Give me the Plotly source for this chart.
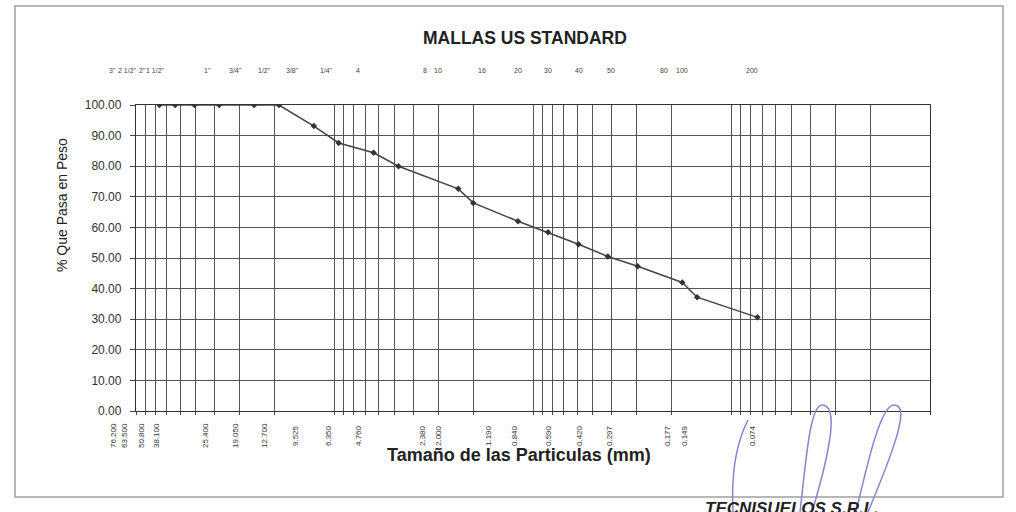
import plotly.graph_objects as go

# Sieve sizes (mm) and cumulative percent passing
sieve_mm = [76.2, 63.5, 50.8, 38.1, 25.4, 19.05, 12.7, 9.525, 6.35, 4.76,
            2.38, 2.0, 1.19, 0.84, 0.59, 0.42, 0.297, 0.177, 0.149, 0.074]
pct_passing = [100.0, 100.0, 100.0, 100.0, 100.0, 100.0, 93.1, 87.6, 84.4, 80.0,
               72.6, 68.0, 62.0, 58.4, 54.5, 50.5, 47.3, 42.0, 37.2, 30.6]

# US standard mesh names and size labels printed above / below the chart
mesh_names = ['3"', '2 1/2"', '2"', '1 1/2"', '1"', '3/4"', '1/2"', '3/8"', '1/4"', '4',
              '8', '10', '16', '20', '30', '40', '50', '80', '100', '200']
size_labels = ['76.200', '63.500', '50.800', '38.100', '25.400', '19.050', '12.700',
               '9.525', '6.350', '4.760', '2.380', '2.000', '1.190', '0.840', '0.590',
               '0.420', '0.297', '0.177', '0.149', '0.074']

# horizontal pixel position of each label column
label_px = [113, 124, 141, 156, 205, 235, 264, 295, 328, 358,
            422, 438, 488, 514, 548, 579, 609, 667, 684, 752]
top_px = [112, 127, 142, 155, 207, 235, 264, 292, 326, 358,
          425, 438, 482, 518, 548, 579, 611, 664, 682, 752]

W, H = 1016, 512
PL, PR, PT, PB = 136, 930, 105, 411


def px_x(px):
    return (px - PL) / (PR - PL)


def px_y(py):
    return (PB - py) / (PB - PT)


def note(px, py, text, size, angle=0, color='#222'):
    return dict(x=px_x(px), y=px_y(py), xref='paper', yref='paper', text=text,
                showarrow=False, textangle=angle, xanchor='center', yanchor='middle',
                font=dict(size=size, color=color, family='Liberation Sans'))


grid_vals = [d * 10 ** k for k in range(-2, 2) for d in range(1, 10)] + [100]

fig = go.Figure()
fig.add_trace(go.Scatter(
    x=sieve_mm, y=pct_passing, mode='lines+markers',
    line=dict(color='#444', width=1.5),
    marker=dict(symbol='diamond', size=5, color='#333'),
    hoverinfo='x+y', showlegend=False))

annotations = []
for name, px in zip(mesh_names, top_px):
    annotations.append(note(px, 71, name, 7, color='#444'))
for lbl, px in zip(size_labels, label_px):
    annotations.append(note(px, 436, lbl, 8, angle=-90, color='#333'))

annotations += [
    note(525, 38, '<b>MALLAS US STANDARD</b>', 17.5),
    note(519, 455, '<b>Tamaño de las Particulas (mm)</b>', 18),
    note(62, 205, '% Que Pasa en Peso', 14, angle=-90),
    note(792, 508, '<b><i>TECNISUELOS S.R.L.</i></b>', 17),
]


def pt(px, py):
    return f'{px_x(px):.4f},{px_y(py):.4f}'


ink = dict(color='#8585cc', width=1.5)
shapes = [
    # page frame
    dict(type='rect', xref='paper', yref='paper', x0=px_x(15), x1=px_x(1003),
         y0=px_y(497), y1=px_y(6), line=dict(color='#a0a0a0', width=1.5)),
    # pen strokes over the lower right corner
    dict(type='path', xref='paper', yref='paper', line=ink,
         path=f'M {pt(733, 512)} Q {pt(730, 455)} {pt(748, 420)}'),
    dict(type='path', xref='paper', yref='paper', line=ink,
         path=f'M {pt(800, 512)} C {pt(806, 460)} {pt(810, 405)} {pt(822, 405)} '
              f'C {pt(838, 405)} {pt(832, 445)} {pt(812, 512)}'),
    dict(type='path', xref='paper', yref='paper', line=ink,
         path=f'M {pt(856, 512)} C {pt(866, 470)} {pt(880, 405)} {pt(894, 405)} '
              f'C {pt(910, 405)} {pt(896, 445)} {pt(868, 512)}'),
]

fig.update_layout(
    width=W, height=H,
    margin=dict(l=PL, r=W - PR, t=PT, b=H - PB),
    paper_bgcolor='white', plot_bgcolor='white',
    font=dict(family='Liberation Sans', color='#222'),
    annotations=annotations, shapes=shapes,
    xaxis=dict(type='log', range=[2, -2], tickvals=grid_vals, showticklabels=False,
               showgrid=True, gridcolor='#555', gridwidth=1.2,
               ticks='outside', ticklen=3, tickcolor='#444',
               showline=True, linecolor='#333', linewidth=1.3, mirror=True,
               zeroline=False),
    yaxis=dict(range=[0, 100], dtick=10, tickformat='.2f',
               showgrid=True, gridcolor='#555', gridwidth=1.2,
               ticks='outside', ticklen=5, tickcolor='#444', ticklabelstandoff=6,
               showline=True, linecolor='#333', linewidth=1.3, mirror=True,
               zeroline=False, tickfont=dict(size=12, color='#333')),
)

fig.write_html('out.html')
